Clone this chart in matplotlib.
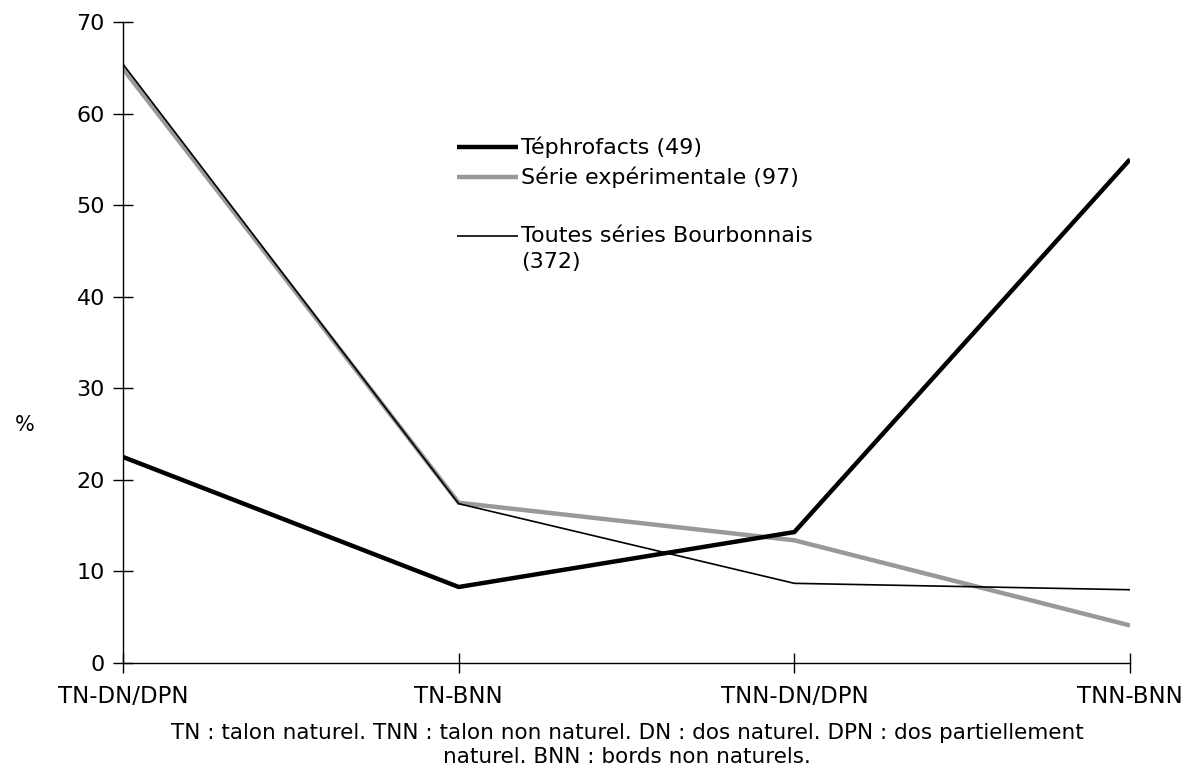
import numpy as np
import matplotlib
matplotlib.use("Agg")
import matplotlib.pyplot as plt
from matplotlib.lines import Line2D

# categories and series (% values)
categories = ["TN-DN/DPN", "TN-BNN", "TNN-DN/DPN", "TNN-BNN"]
tephrofacts = [22.5, 8.3, 14.3, 55.0]
experimentale = [64.9, 17.5, 13.4, 4.1]
bourbonnais = [65.4, 17.4, 8.7, 8.0]

labels = ["Téphrofacts (49)", "Série expérimentale (97)",
          "Toutes séries Bourbonnais\n(372)"]
caption = ("TN : talon naturel. TNN : talon non naturel. DN : dos naturel. DPN : dos partiellement\n"
           "naturel. BNN : bords non naturels.")

plt.rcParams['font.family'] = ['DejaVu Sans']

fig = plt.figure(figsize=(11.94, 7.76), dpi=100)
ax = fig.add_axes([123/1194, 1 - 663/776, (1130 - 123)/1194, (663 - 22)/776])

x = np.arange(len(categories))
ax.plot(x, experimentale, color="#999999", lw=3.2, solid_capstyle="butt", zorder=2)
ax.plot(x, bourbonnais, color="black", lw=1.2, zorder=3)
ax.plot(x, tephrofacts, color="black", lw=3.2, solid_capstyle="butt", zorder=4)

ax.set_xlim(0, 3)
ax.set_ylim(0, 70)
ax.set_xticks(x)
ax.set_xticklabels(categories, fontsize=16.5)
ax.set_yticks(np.arange(0, 71, 10))
ax.tick_params(axis="y", labelsize=16, direction="inout", length=14, width=1, pad=6)
ax.tick_params(axis="x", direction="inout", length=14, width=1, pad=9)
for s in ["top", "right"]:
    ax.spines[s].set_visible(False)
for s in ["left", "bottom"]:
    ax.spines[s].set_linewidth(1)

fig.text(15/1194, 1 - 425/776, "%", fontsize=15, ha="left", va="center")

# legend drawn by hand so the handle sits on the first line of the label
leg_y = [147, 177, 236]
leg_style = [dict(color="black", lw=3.2), dict(color="#999999", lw=3.2),
             dict(color="black", lw=1.2)]
for yy, lab, st in zip(leg_y, labels, leg_style):
    fy = 1 - yy/776
    fig.add_artist(Line2D([457/1194, 518/1194], [fy, fy], transform=fig.transFigure,
                          solid_capstyle="butt", **st))
    if "\n" in lab:
        fig.text(521/1194, fy + 10/776, lab, fontsize=16, ha="left", va="top",
                 linespacing=1.35)
    else:
        fig.text(521/1194, fy, lab, fontsize=16, ha="left", va="center")

fig.text(627/1194, 1 - 745/776, caption, fontsize=15.5, ha="center", va="center",
         linespacing=1.25)

fig.savefig("out.png", dpi=100)
